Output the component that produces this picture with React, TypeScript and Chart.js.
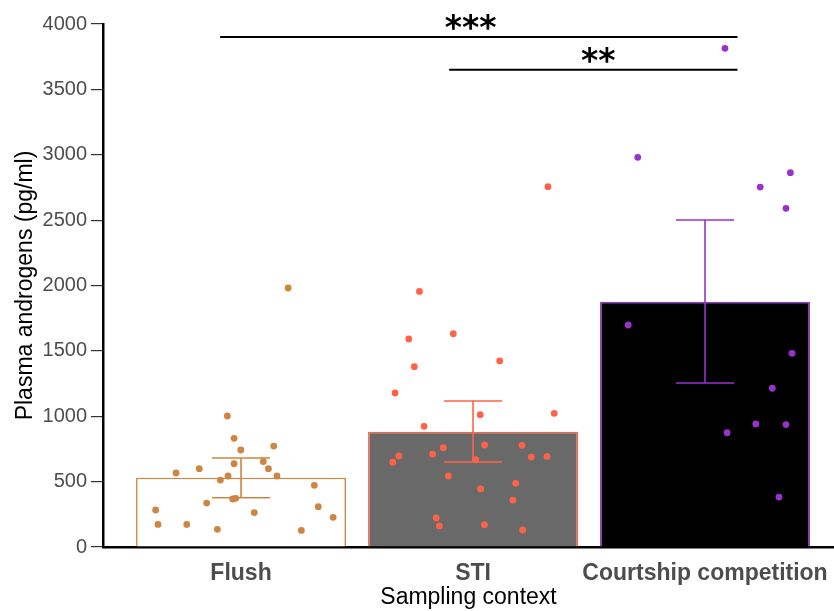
import React, { useEffect, useRef } from "react";
import { Chart, registerables } from "chart.js";

Chart.register(...registerables);

// ---- Data ----
const categories = ["Flush", "STI", "Courtship competition"];
const categoryPositions = [1, 2, 3];
const means = [530, 882, 1876];
const errLower = [377, 650, 1254];
const errUpper = [681, 1117, 2501];

const flushX = [0.941, 0.970, 0.999, 1.141, 0.970, 1.096, 1.118, 1.155, 0.720, 0.820, 0.944, 0.911, 1.316, 0.964, 0.977, 0.852, 1.333, 0.632, 1.057, 1.397, 0.642, 0.766, 0.898, 1.260, 1.203];
const flushY = [1002, 831, 742, 772, 637, 653, 599, 543, 566, 599, 543, 512, 472, 367, 372, 336, 308, 283, 263, 227, 173, 173, 135, 127, 1981];

const stiX = [2.323, 1.769, 1.723, 1.915, 1.747, 2.115, 1.664, 2.031, 2.350, 1.789, 2.050, 2.211, 1.872, 1.680, 1.826, 2.251, 2.319, 1.654, 2.012, 1.894, 2.184, 2.033, 2.172, 1.841, 1.855, 2.049, 2.214];
const stiY = [2756, 1955, 1591, 1631, 1379, 1423, 1178, 1012, 1022, 923, 780, 778, 760, 696, 711, 688, 693, 648, 668, 543, 487, 444, 359, 222, 161, 171, 130];

const courtX = [3.086, 2.710, 3.368, 3.238, 3.349, 2.669, 3.375, 3.290, 3.219, 3.349, 3.095, 3.319];
const courtY = [3814, 2980, 2863, 2753, 2590, 1698, 1481, 1214, 941, 936, 874, 382];

const yTicks = [0, 500, 1000, 1500, 2000, 2500, 3000, 3500, 4000];

// significance annotations
const sigLabels = ["***", "**"];
const sigStartX = [0.91, 1.897];
const sigEndX = [3.14, 3.14];
const sigLevel = [3900, 3650];
const sigTextX = [1.99, 2.54];

// ---- Styles ----
const borderColors = ["#CD853F", "#FF6347", "#9932CC"];
const fillColors = ["#FFFFFF", "#696969", "#000000"];
const FONT = "'Liberation Sans', Arial, Helvetica, sans-serif";
const CAP_HALF = 0.125;

const overlayPlugin = {
  id: "overlay",
  afterDatasetDraw(chart: any, args: any) {
    if (args.index !== 0) return;
    const xs = chart.scales.x;
    const ys = chart.scales.y;
    const ctx = chart.ctx;
    ctx.save();
    ctx.lineWidth = 1.6;
    for (let i = 0; i < categories.length; i++) {
      const c = categoryPositions[i];
      const cx = xs.getPixelForValue(c);
      const l = xs.getPixelForValue(c - CAP_HALF);
      const r = xs.getPixelForValue(c + CAP_HALF);
      const yu = ys.getPixelForValue(errUpper[i]);
      const yl = ys.getPixelForValue(errLower[i]);
      ctx.strokeStyle = borderColors[i];
      ctx.beginPath();
      ctx.moveTo(l, yu);
      ctx.lineTo(r, yu);
      ctx.moveTo(cx, yu);
      ctx.lineTo(cx, yl);
      ctx.moveTo(l, yl);
      ctx.lineTo(r, yl);
      ctx.stroke();
    }
    ctx.restore();
  },
  afterDraw(chart: any) {
    const xs = chart.scales.x;
    const ys = chart.scales.y;
    const ctx = chart.ctx;
    ctx.save();
    ctx.strokeStyle = "#000";
    ctx.fillStyle = "#000";
    ctx.lineWidth = 2;
    ctx.font = "bold 33px 'DejaVu Sans', sans-serif";
    ctx.textAlign = "center";
    ctx.textBaseline = "alphabetic";
    for (let i = 0; i < sigLabels.length; i++) {
      const y = ys.getPixelForValue(sigLevel[i]);
      ctx.beginPath();
      ctx.moveTo(xs.getPixelForValue(sigStartX[i]), y);
      ctx.lineTo(xs.getPixelForValue(sigEndX[i]), y);
      ctx.stroke();
      ctx.fillText(sigLabels[i], xs.getPixelForValue(sigTextX[i]), y + 2);
    }
    ctx.restore();
  },
};

export default function App() {
  const canvasRef = useRef<HTMLCanvasElement | null>(null);

  useEffect(() => {
    if (!canvasRef.current) return;
    const pts = (xs: number[], ys: number[]) => xs.map((x, i) => ({ x, y: ys[i] }));
    const chart = new Chart(canvasRef.current, {
      type: "bar",
      data: {
        datasets: [
          {
            type: "bar",
            data: categoryPositions.map((x, i) => ({ x, y: means[i] })),
            backgroundColor: fillColors,
            borderColor: borderColors,
            borderWidth: 1.6,
            borderSkipped: "bottom",
            categoryPercentage: 1,
            barPercentage: 0.905,
            order: 2,
          } as any,
          {
            type: "scatter",
            data: pts(flushX, flushY),
            backgroundColor: borderColors[0],
            borderWidth: 0,
            pointRadius: 3.4,
            order: 1,
          } as any,
          {
            type: "scatter",
            data: pts(stiX, stiY),
            backgroundColor: borderColors[1],
            borderWidth: 0,
            pointRadius: 3.4,
            order: 1,
          } as any,
          {
            type: "scatter",
            data: pts(courtX, courtY),
            backgroundColor: borderColors[2],
            borderWidth: 0,
            pointRadius: 3.4,
            order: 1,
          } as any,
        ],
      },
      options: {
        responsive: false,
        animation: false,
        events: [],
        layout: { autoPadding: false, padding: { top: 24, left: 0, right: 0, bottom: 0 } },
        plugins: {
          legend: { display: false },
          tooltip: { enabled: false },
        },
        scales: {
          x: {
            type: "linear",
            min: 0.405,
            max: 3.556,
            offset: false,
            bounds: "data",
            afterBuildTicks: (scale: any) => {
              scale.ticks = categoryPositions.map((v) => ({ value: v }));
            },
            afterFit: (scale: any) => {
              scale.height = 64;
              scale.paddingLeft = 0;
              scale.paddingRight = 0;
            },
            grid: { display: false, drawTicks: false, offset: false },
            border: { display: true, color: "#000", width: 2.5 },
            ticks: {
              autoSkip: false,
              maxRotation: 0,
              padding: 13,
              color: "#4D4D4D",
              font: { family: FONT, size: 23, weight: "bold" },
              callback: (_v: any, i: number) => categories[i],
            },
            title: {
              display: true,
              text: "Sampling context",
              color: "#000",
              font: { family: FONT, size: 23 },
              padding: { top: 0, bottom: 0 },
            },
          },
          y: {
            type: "linear",
            min: 0,
            max: 4000,
            afterBuildTicks: (scale: any) => {
              scale.ticks = yTicks.map((v) => ({ value: v }));
            },
            afterFit: (scale: any) => {
              scale.width = 103;
            },
            grid: {
              display: true,
              drawOnChartArea: false,
              drawTicks: true,
              tickLength: 12,
              color: "#333333",
              lineWidth: 1.2,
            },
            border: { display: true, color: "#000", width: 2.5 },
            ticks: {
              padding: 4,
              color: "#4D4D4D",
              font: { family: FONT, size: 20 },
              callback: (v: any) => String(v),
            },
            title: {
              display: true,
              text: "Plasma androgens (pg/ml)",
              color: "#000",
              font: { family: FONT, size: 23 },
              padding: { top: 12, bottom: 0 },
            },
          },
        },
      },
      plugins: [overlayPlugin],
    } as any);
    return () => chart.destroy();
  }, []);

  return (
    <div style={{ position: "absolute", left: 0, top: 0, width: 834, height: 611, background: "#fff" }}>
      <canvas ref={canvasRef} width={834} height={611} />
    </div>
  );
}
